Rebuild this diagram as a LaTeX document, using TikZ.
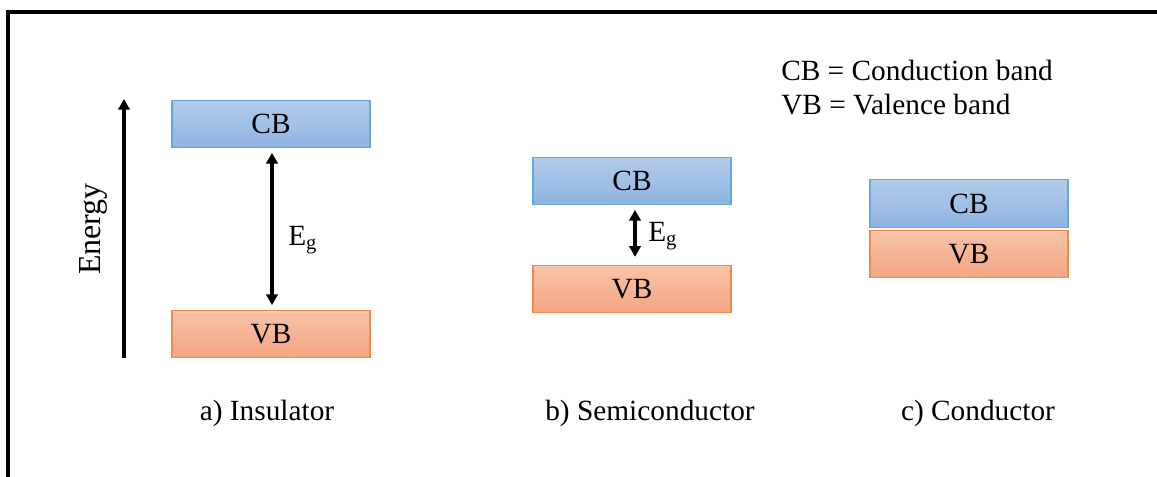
\documentclass[tikz,border=0pt]{standalone}
\usepackage{fontspec}
\setmainfont{Liberation Serif}
\usetikzlibrary{arrows.meta}
\definecolor{cbtop}{HTML}{B2CCEA}
\definecolor{cbbot}{HTML}{8EB4E3}
\definecolor{cbline}{HTML}{6AA5DA}
\definecolor{vbtop}{HTML}{F8C3A9}
\definecolor{vbbot}{HTML}{F4A582}
\definecolor{vbline}{HTML}{F08A4B}
\begin{document}
\begin{tikzpicture}[x=0.75pt,y=-0.75pt,
  txt/.style={font=\fontsize{22}{26}\selectfont, inner sep=0pt},
  band/.style={minimum width=148.5pt, minimum height=35.5pt, inner sep=0pt, line width=0.8pt, font=\fontsize{22}{26}\selectfont},
  cbband/.style={band, draw=cbline, top color=cbtop, bottom color=cbbot},
  vbband/.style={band, draw=vbline, top color=vbtop, bottom color=vbbot},
  arr/.style={line width=2.6pt, -{Triangle[length=8pt,width=8.5pt]}},
  dblarr/.style={line width=2.6pt, {Triangle[length=8pt,width=8.5pt]}-{Triangle[length=8pt,width=8.5pt]}}
]
\useasboundingbox (0,0) rectangle (1157,477);
% frame
\draw[line width=2.6pt] (8,477) -- (8,12) -- (1157,12);

% energy axis
\coordinate (e0) at (124,358);
\coordinate (e1) at (124,99);
\draw[arr] (e0) -- (e1);
\node[txt, font=\fontsize{24}{28}\selectfont, rotate=90] (energy) at (93,229) {Energy};

% insulator
\node[cbband] (icb) at (271,124) {CB};
\node[vbband] (ivb) at (271,334) {VB};
\draw[dblarr] ([xshift=0.75pt,yshift=-3.5pt]icb.south) -- ([xshift=0.75pt,yshift=3.5pt]ivb.north);
\node[txt, anchor=west] (ieg) at (288,240) {E\textsubscript{g}};
\node[txt] (icap) at (267,413) {a) Insulator};

% semiconductor
\node[cbband] (scb) at (632,181) {CB};
\node[vbband] (svb) at (632,289) {VB};
\draw[dblarr] ([xshift=2.25pt,yshift=-3.5pt]scb.south) -- ([xshift=2.25pt,yshift=6pt]svb.north);
\node[txt, anchor=west] (seg) at (648,236) {E\textsubscript{g}};
\node[txt] (scap) at (650,413) {b) Semiconductor};

% conductor
\node[cbband] (ccb) at (969,203.5) {CB};
\node[vbband] (cvb) at (969,254) {VB};
\node[txt] (ccap) at (978,413) {c) Conductor};

% legend
\node[txt, anchor=west] (leg1) at (781,70) {CB = Conduction band};
\node[txt, anchor=west] (leg2) at (781,105) {VB = Valence band};
\end{tikzpicture}
\end{document}
